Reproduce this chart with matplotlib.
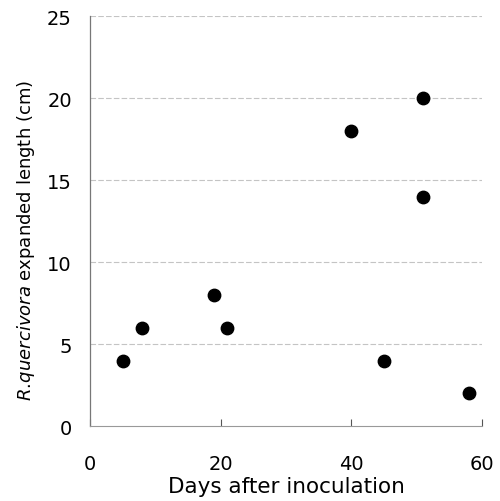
import numpy as np
import matplotlib.pyplot as plt

# days after inoculation / expanded length (cm)
days = [5, 8, 19, 21, 40, 45, 51, 51, 58]
length = [4, 6, 8, 6, 18, 4, 20, 14, 2]
xticks = [0, 20, 40, 60]
yticks = [0, 5, 10, 15, 20, 25]

fig = plt.figure(figsize=(5.0, 5.02), dpi=100)
ax = fig.add_axes([0.18, 0.149, 0.784, 0.817])

for y in yticks[1:]:
    ax.axhline(y, color='#c4c4c4', lw=0.8, ls=(0, (5, 2)), zorder=0)

ax.scatter(days, length, s=80, color='black', zorder=3)

ax.set_xlim(0, 60)
ax.set_ylim(0, 25)
ax.set_xticks(xticks)
ax.set_yticks(yticks)
ax.tick_params(axis='x', direction='in', length=5, width=0.8, color='#555555',
               pad=20, labelsize=14)
ax.tick_params(axis='y', length=0, pad=13, labelsize=14)

for s in ['top', 'right']:
    ax.spines[s].set_visible(False)
ax.spines['left'].set_color('#777777')
ax.spines['left'].set_linewidth(0.9)
ax.spines['bottom'].set_color('#999999')
ax.spines['bottom'].set_linewidth(0.8)

ax.set_xlabel('Days after inoculation', fontsize=15.5, labelpad=2)
ax.set_ylabel(r'$\mathit{R.\!quercivora}$ expanded length (cm)', fontsize=13)
ax.yaxis.set_label_coords(-0.136, 0.455)

fig.savefig('out.png', dpi=100)
